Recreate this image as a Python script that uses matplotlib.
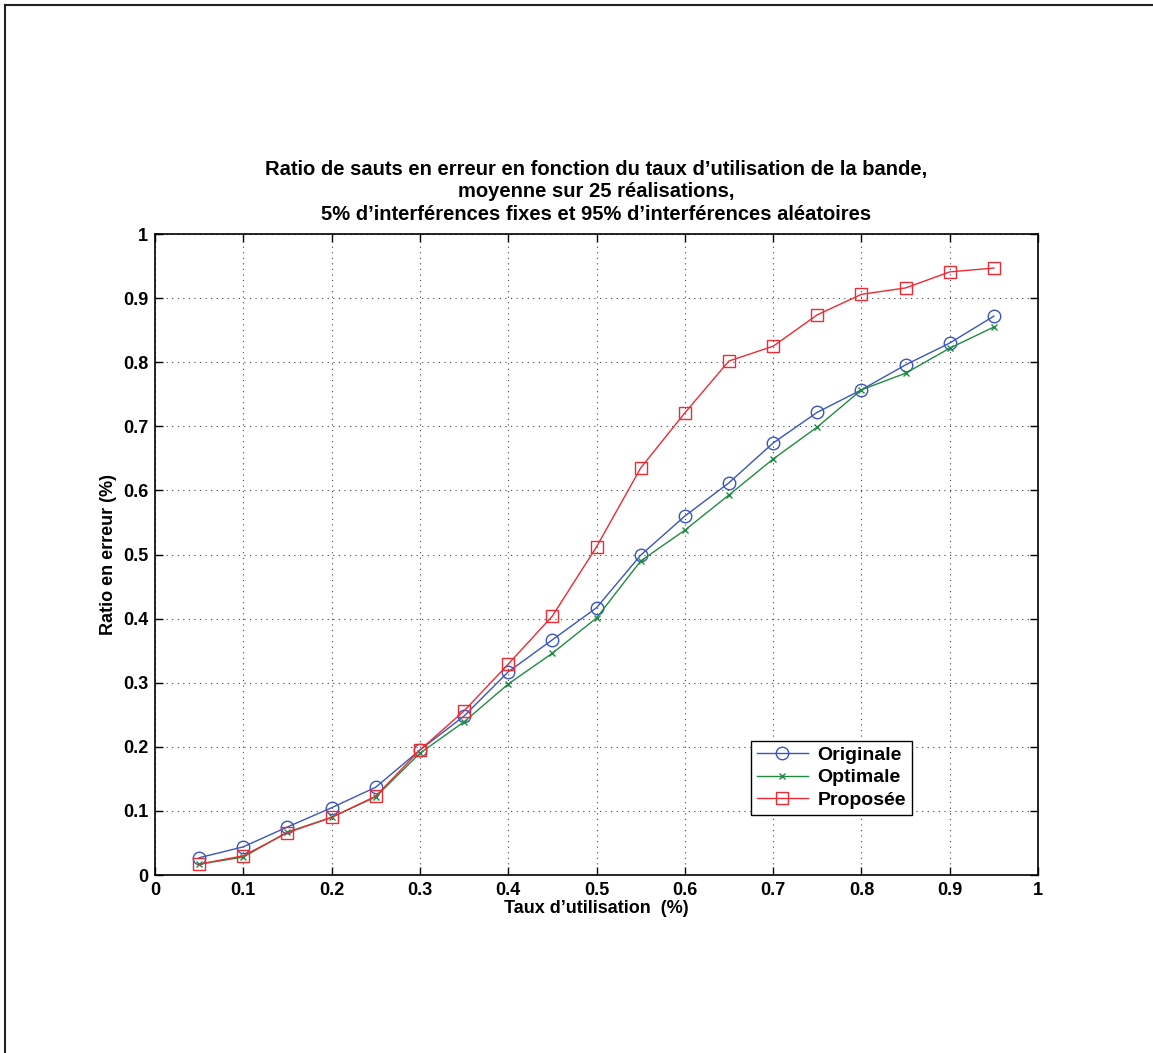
import matplotlib
matplotlib.use("Agg")
import matplotlib.pyplot as plt
from matplotlib.lines import Line2D

plt.rcParams['font.family'] = ['Liberation Sans', 'DejaVu Sans']
plt.rcParams['font.weight'] = 'bold'

taux = [0.05, 0.1, 0.15, 0.2, 0.25, 0.3, 0.35, 0.4, 0.45, 0.5,
        0.55, 0.6, 0.65, 0.7, 0.75, 0.8, 0.85, 0.9, 0.95]
originale = [0.027, 0.044, 0.075, 0.105, 0.137, 0.195, 0.248, 0.317, 0.367, 0.417,
             0.499, 0.560, 0.612, 0.674, 0.722, 0.757, 0.796, 0.830, 0.872]
optimale = [0.017, 0.028, 0.067, 0.090, 0.122, 0.190, 0.239, 0.298, 0.346, 0.401,
            0.490, 0.538, 0.593, 0.649, 0.699, 0.757, 0.783, 0.822, 0.855]
proposee = [0.017, 0.030, 0.066, 0.090, 0.123, 0.195, 0.256, 0.329, 0.404, 0.512,
            0.635, 0.721, 0.802, 0.825, 0.874, 0.906, 0.916, 0.941, 0.947]
ticks = [0, 0.1, 0.2, 0.3, 0.4, 0.5, 0.6, 0.7, 0.8, 0.9, 1]
tick_labels = ['0', '0.1', '0.2', '0.3', '0.4', '0.5', '0.6', '0.7', '0.8', '0.9', '1']

fig = plt.figure(figsize=(11.53, 10.53), dpi=100)
ax = fig.add_axes([0.1344, 0.169, 0.7659, 0.6087])

ax.plot(taux, originale, color='#3a55c0', lw=1, marker='o', ms=9, mfc='none', mew=1, label='Originale')
ax.plot(taux, optimale, color='#1e8c40', lw=1, marker='x', ms=5, mew=1, label='Optimale')
ax.plot(taux, proposee, color='#ee2a33', lw=1, marker='s', ms=9, mfc='none', mew=1, label='Proposée')

ax.set_xlim(0, 1)
ax.set_ylim(0, 1)
ax.set_xticks(ticks)
ax.set_xticklabels(tick_labels)
ax.set_yticks(ticks)
ax.set_yticklabels(tick_labels)
ax.tick_params(direction='in', top=True, right=True, labelsize=13, length=6, width=1, pad=5)
ax.grid(True, linestyle=(0, (1, 4)), color='#444444', lw=0.8)
for sp in ax.spines.values():
    sp.set_linewidth(1.2)

ax.set_xlabel("Taux d\u2019utilisation  (%)", fontsize=13, fontweight='bold', labelpad=1)
ax.set_ylabel("Ratio en erreur (%)", fontsize=13, fontweight='bold', labelpad=4)
ax.set_title("Ratio de sauts en erreur en fonction du taux d\u2019utilisation de la bande,\n"
             "moyenne sur 25 réalisations,\n"
             "5% d\u2019interférences fixes et 95% d\u2019interférences aléatoires",
             fontsize=14.5, fontweight='bold', linespacing=1.25, pad=10)

leg = ax.legend(loc='lower right', bbox_to_anchor=(0.857, 0.094), fontsize=14,
                fancybox=False, edgecolor='black', framealpha=1, borderpad=0.3,
                borderaxespad=0, handlelength=2.6, handletextpad=0.5, labelspacing=0.25)
leg.get_frame().set_linewidth(1)

fig.add_artist(Line2D([0.0045, 0.0045], [0, 0.9955], color='#222222', lw=1.5, transform=fig.transFigure))
fig.add_artist(Line2D([0.0045, 1], [0.9955, 0.9955], color='#222222', lw=1.5, transform=fig.transFigure))

fig.savefig('out.png', dpi=100)
